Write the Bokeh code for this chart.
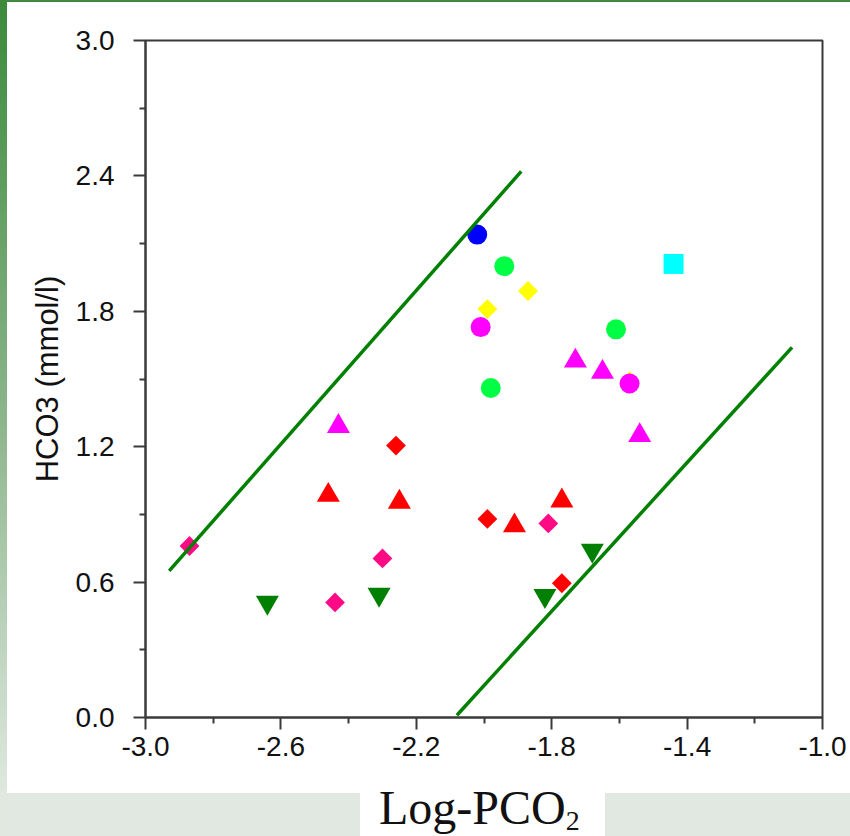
import numpy as np
from bokeh.plotting import figure
from bokeh.models import FixedTicker, PrintfTickFormatter, Range1d, Div
from bokeh.layouts import row, column
from bokeh.embed import file_html
from bokeh.resources import INLINE

# ---------------- data ----------------
x_ticks = [-3.0, -2.6, -2.2, -1.8, -1.4, -1.0]
x_minor = [-2.8, -2.4, -2.0, -1.6, -1.2]
y_ticks = [0.0, 0.6, 1.2, 1.8, 2.4, 3.0]
y_minor = [0.3, 0.9, 1.5, 2.1, 2.7]

yellow_diamond_x = [-1.99, -1.87, -1.57]
yellow_diamond_y = [1.81, 1.89, 1.49]
red_diamond_x = [-2.26, -1.99, -1.77]
red_diamond_y = [1.205, 0.88, 0.595]
pink_diamond_x = [-2.87, -2.30, -2.44, -1.81]
pink_diamond_y = [0.76, 0.705, 0.51, 0.86]

blue_circle_x = [-2.02]
blue_circle_y = [2.14]
green_circle_x = [-1.94, -1.98, -1.61]
green_circle_y = [2.00, 1.46, 1.72]
magenta_circle_x = [-2.01, -1.57]
magenta_circle_y = [1.73, 1.48]

cyan_square_x = [-1.44]
cyan_square_y = [2.01]

magenta_tri_x = [-2.43, -1.73, -1.65, -1.54]
magenta_tri_y = [1.29, 1.58, 1.53, 1.25]
red_tri_x = [-2.46, -2.25, -1.91, -1.77]
red_tri_y = [0.985, 0.955, 0.85, 0.96]
green_down_x = [-2.64, -2.31, -1.82, -1.68]
green_down_y = [0.51, 0.545, 0.54, 0.74]

line1_x = [-2.93, -1.89]
line1_y = [0.65, 2.42]
line2_x = [-2.08, -1.09]
line2_y = [0.01, 1.64]

x_title = "Log-PCO"
x_title_sub = "2"
y_title = "HCO3 (mmol/l)"

# ---------------- figure ----------------
p = figure(width=843, height=791, x_range=Range1d(-3.0, -1.0), y_range=Range1d(0.0, 3.0),
           output_backend="svg", toolbar_location=None,
           min_border_left=138, min_border_right=28, min_border_top=38, min_border_bottom=76)
p.background_fill_color = "white"
p.border_fill_color = "white"
p.outline_line_color = "#3a3a3a"
p.outline_line_width = 2
p.xgrid.visible = False
p.ygrid.visible = False

for ax in (p.xaxis[0], p.yaxis[0]):
    ax.axis_line_color = "#3a3a3a"
    ax.axis_line_width = 2
    ax.major_tick_line_color = "#3a3a3a"
    ax.minor_tick_line_color = "#3a3a3a"
    ax.major_tick_line_width = 2
    ax.minor_tick_line_width = 2
    ax.major_tick_in = 0
    ax.minor_tick_in = 0
    ax.major_tick_out = 12
    ax.minor_tick_out = 6
    ax.major_label_text_font = "Liberation Sans"
    ax.major_label_text_font_size = "28px"
    ax.major_label_text_color = "#111111"
    ax.formatter = PrintfTickFormatter(format="%.1f")

p.xaxis[0].ticker = FixedTicker(ticks=x_ticks, minor_ticks=x_minor)
p.yaxis[0].ticker = FixedTicker(ticks=y_ticks, minor_ticks=y_minor)
p.xaxis[0].major_label_standoff = 7
p.yaxis[0].major_label_standoff = 19
p.yaxis[0].axis_label = y_title
p.yaxis[0].axis_label_text_font = "Liberation Sans"
p.yaxis[0].axis_label_text_font_size = "31px"
p.yaxis[0].axis_label_text_font_style = "normal"
p.yaxis[0].axis_label_text_color = "#111111"
p.yaxis[0].axis_label_standoff = 8

# ---------------- markers ----------------
dkw = dict(marker="square", angle=np.pi / 4, size=14, line_alpha=0)
p.scatter(yellow_diamond_x, yellow_diamond_y, fill_color="#ffff00", **dkw)
p.scatter(red_diamond_x, red_diamond_y, fill_color="#ff0000", **dkw)
p.scatter(pink_diamond_x, pink_diamond_y, fill_color="#ff0a85", **dkw)

ckw = dict(marker="circle", size=20, line_alpha=0)
p.scatter(blue_circle_x, blue_circle_y, fill_color="#0000ff", **ckw)
p.scatter(green_circle_x, green_circle_y, fill_color="#00ff44", **ckw)
p.scatter(magenta_circle_x, magenta_circle_y, fill_color="#ff00ff", **ckw)

p.scatter(cyan_square_x, cyan_square_y, marker="square", size=20, fill_color="#00ffff", line_alpha=0)

tkw = dict(size=23, line_alpha=0)
p.scatter(magenta_tri_x, magenta_tri_y, marker="triangle", fill_color="#ff00ff", **tkw)
p.scatter(red_tri_x, red_tri_y, marker="triangle", fill_color="#ff0000", **tkw)
p.scatter(green_down_x, green_down_y, marker="inverted_triangle", fill_color="#008000", **tkw)

p.line(line1_x, line1_y, line_color="#008000", line_width=3.5)
p.line(line2_x, line2_y, line_color="#008000", line_width=3.5)

# ---------------- page decoration ----------------
top_bar = Div(width=850, height=2, margin=(0, 0, 0, 0),
              styles={"background-color": "#3f8a3f"})
strip = Div(width=7, height=834, margin=(0, 0, 0, 0),
            styles={"background": "linear-gradient(#3c8a3c, #8cb58c 50%, #e0e8e0 95%)"})
band_html = (
    '<div style="margin-left:353px;width:245px;height:43px;background:#ffffff;'
    'overflow:visible;font-family:\'Liberation Serif\';font-size:48px;line-height:30px;'
    'color:#111111;white-space:nowrap;padding-left:19px;padding-top:0px;box-sizing:border-box;">'
    + x_title +
    '<span style="font-size:28px;vertical-align:-6px;line-height:0;">' + x_title_sub + '</span></div>'
)
band = Div(text=band_html, width=843, height=43, margin=(0, 0, 0, 0),
           styles={"background-color": "#e1e8e1", "overflow": "visible"})

layout = column(top_bar, row(strip, column(p, band, spacing=0), spacing=0), spacing=0)

open("out.html", "w").write(file_html(layout, INLINE))
